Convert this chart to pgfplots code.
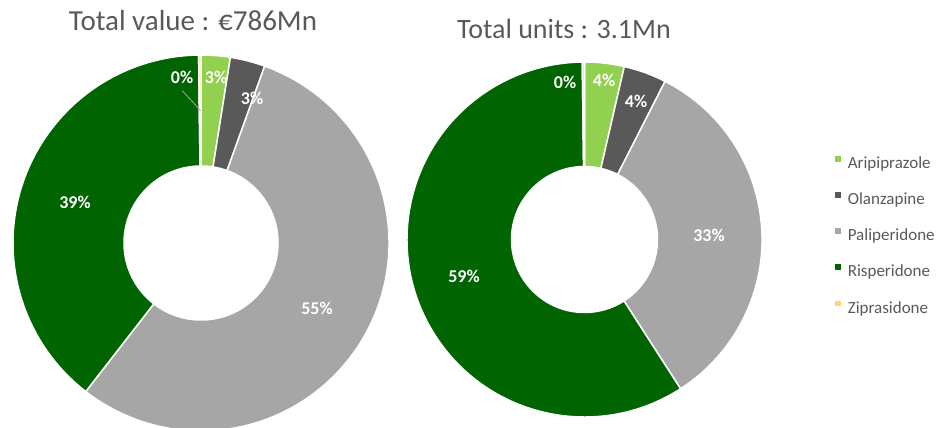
\documentclass[border=0pt]{standalone}
\usepackage{fontspec}
\setmainfont{Carlito}
\usepackage{pgfplots}
\usepackage{pgfplotstable}
\pgfplotsset{compat=1.18}

\definecolor{cAri}{HTML}{92D050}
\definecolor{cOla}{HTML}{595959}
\definecolor{cPal}{HTML}{A6A6A6}
\definecolor{cRis}{HTML}{006400}
\definecolor{cZip}{HTML}{FFD966}
\definecolor{txtgrey}{HTML}{595959}

% share in %, colour, label centre in pixels (y from top), rounded label
\pgfplotstableread{
drug val col lx ly pct
Aripiprazole 2.5 cAri 216 77 3
Olanzapine 3.0 cOla 252 98 3
Paliperidone 55.0 cPal 317 308 55
Risperidone 39.3 cRis 75 202 39
Ziprasidone 0.2 cZip 182 77 0
}\valuetable

\pgfplotstableread{
drug val col lx ly pct
Aripiprazole 3.6 cAri 604 80 4
Olanzapine 3.9 cOla 636 101 4
Paliperidone 33.4 cPal 709 235 33
Risperidone 58.9 cRis 464 276 59
Ziprasidone 0.2 cZip 565 82 0
}\unitstable

% #1 table, #2 cx, #3 cy (pixels from top), #4 outer radius, #5 inner radius
\newcommand\donut[5]{%
  \def\angstart{90}%
  \pgfmathsetmacro\cy{428-#3}%
  \pgfplotstablegetrowsof{#1}%
  \pgfmathtruncatemacro\nrows{\pgfplotsretval-1}%
  \pgfplotsforeachungrouped \i in {0,...,\nrows}{%
    \pgfplotstablegetelem{\i}{val}\of{#1}\let\v\pgfplotsretval
    \pgfplotstablegetelem{\i}{col}\of{#1}\let\c\pgfplotsretval
    \pgfmathsetmacro\angend{\angstart-3.6*\v}%
    \pgfmathsetmacro\xa{#2+#4*cos(\angstart)}%
    \pgfmathsetmacro\ya{\cy+#4*sin(\angstart)}%
    \pgfmathsetmacro\xb{#2+#5*cos(\angend)}%
    \pgfmathsetmacro\yb{\cy+#5*sin(\angend)}%
    \edef\tmp{\noexpand\filldraw[fill=\c, draw=white, line width=1.5pt]
      (axis cs:\xa,\ya) arc[start angle=\angstart, end angle=\angend, radius=#4pt]
      -- (axis cs:\xb,\yb) arc[start angle=\angend, end angle=\angstart, radius=#5pt]
      -- cycle;}%
    \tmp
    \let\angstart\angend
  }%
  \pgfplotsforeachungrouped \i in {0,...,\nrows}{%
    \pgfplotstablegetelem{\i}{lx}\of{#1}\let\lx\pgfplotsretval
    \pgfplotstablegetelem{\i}{ly}\of{#1}\let\py\pgfplotsretval
    \pgfplotstablegetelem{\i}{pct}\of{#1}\let\pct\pgfplotsretval
    \pgfmathsetmacro\ly{428-\py}%
    \edef\tmp{\noexpand\node[text=white, font=\noexpand\bfseries\noexpand\fontsize{18}{20}\noexpand\selectfont]
      at (axis cs:\lx,\ly) {\pct\noexpand\%};}%
    \tmp
  }%
}

\begin{document}
\begin{tikzpicture}
\begin{axis}[
  x=1pt, y=1pt,
  xmin=0, xmax=940, ymin=0, ymax=428,
  hide axis, clip=false,
  legend image code/.code={\fill[#1] (0pt,2.8pt) rectangle (5.8pt,8.6pt); \path (12.8pt,0pt);},
  legend style={draw=none, fill=none, inner sep=0pt, outer sep=0pt,
    at={(axis cs:835,272.2)}, anchor=north west,
    font=\fontsize{17}{18}\selectfont, text=txtgrey,
    nodes={inner sep=0pt, text height=12pt, text depth=4pt},
    row sep=19.6pt},
  legend cell align=left,
]
\addlegendimage{fill=cAri, draw=none}
\addlegendentry{Aripiprazole}
\addlegendimage{fill=cOla, draw=none}
\addlegendentry{Olanzapine}
\addlegendimage{fill=cPal, draw=none}
\addlegendentry{Paliperidone}
\addlegendimage{fill=cRis, draw=none}
\addlegendentry{Risperidone}
\addlegendimage{fill=cZip, draw=none}
\addlegendentry{Ziprasidone}

\donut{\valuetable}{201}{243}{188}{77}
\donut{\unitstable}{584.5}{239.5}{177.5}{73}

\draw[cPal, line width=0.8pt] (axis cs:182.3,337.3) -- (axis cs:200.7,317.3);

\node[anchor=base, text=txtgrey, font=\fontsize{29}{32}\selectfont]
  at (axis cs:193,397.3) {Total value : €786Mn};
\node[anchor=base, text=txtgrey, font=\fontsize{28}{31}\selectfont]
  at (axis cs:564,389) {Total units : 3.1Mn};
\end{axis}
\pgfresetboundingbox
\useasboundingbox (current axis.south west) rectangle (current axis.north east);
\end{tikzpicture}
\end{document}
